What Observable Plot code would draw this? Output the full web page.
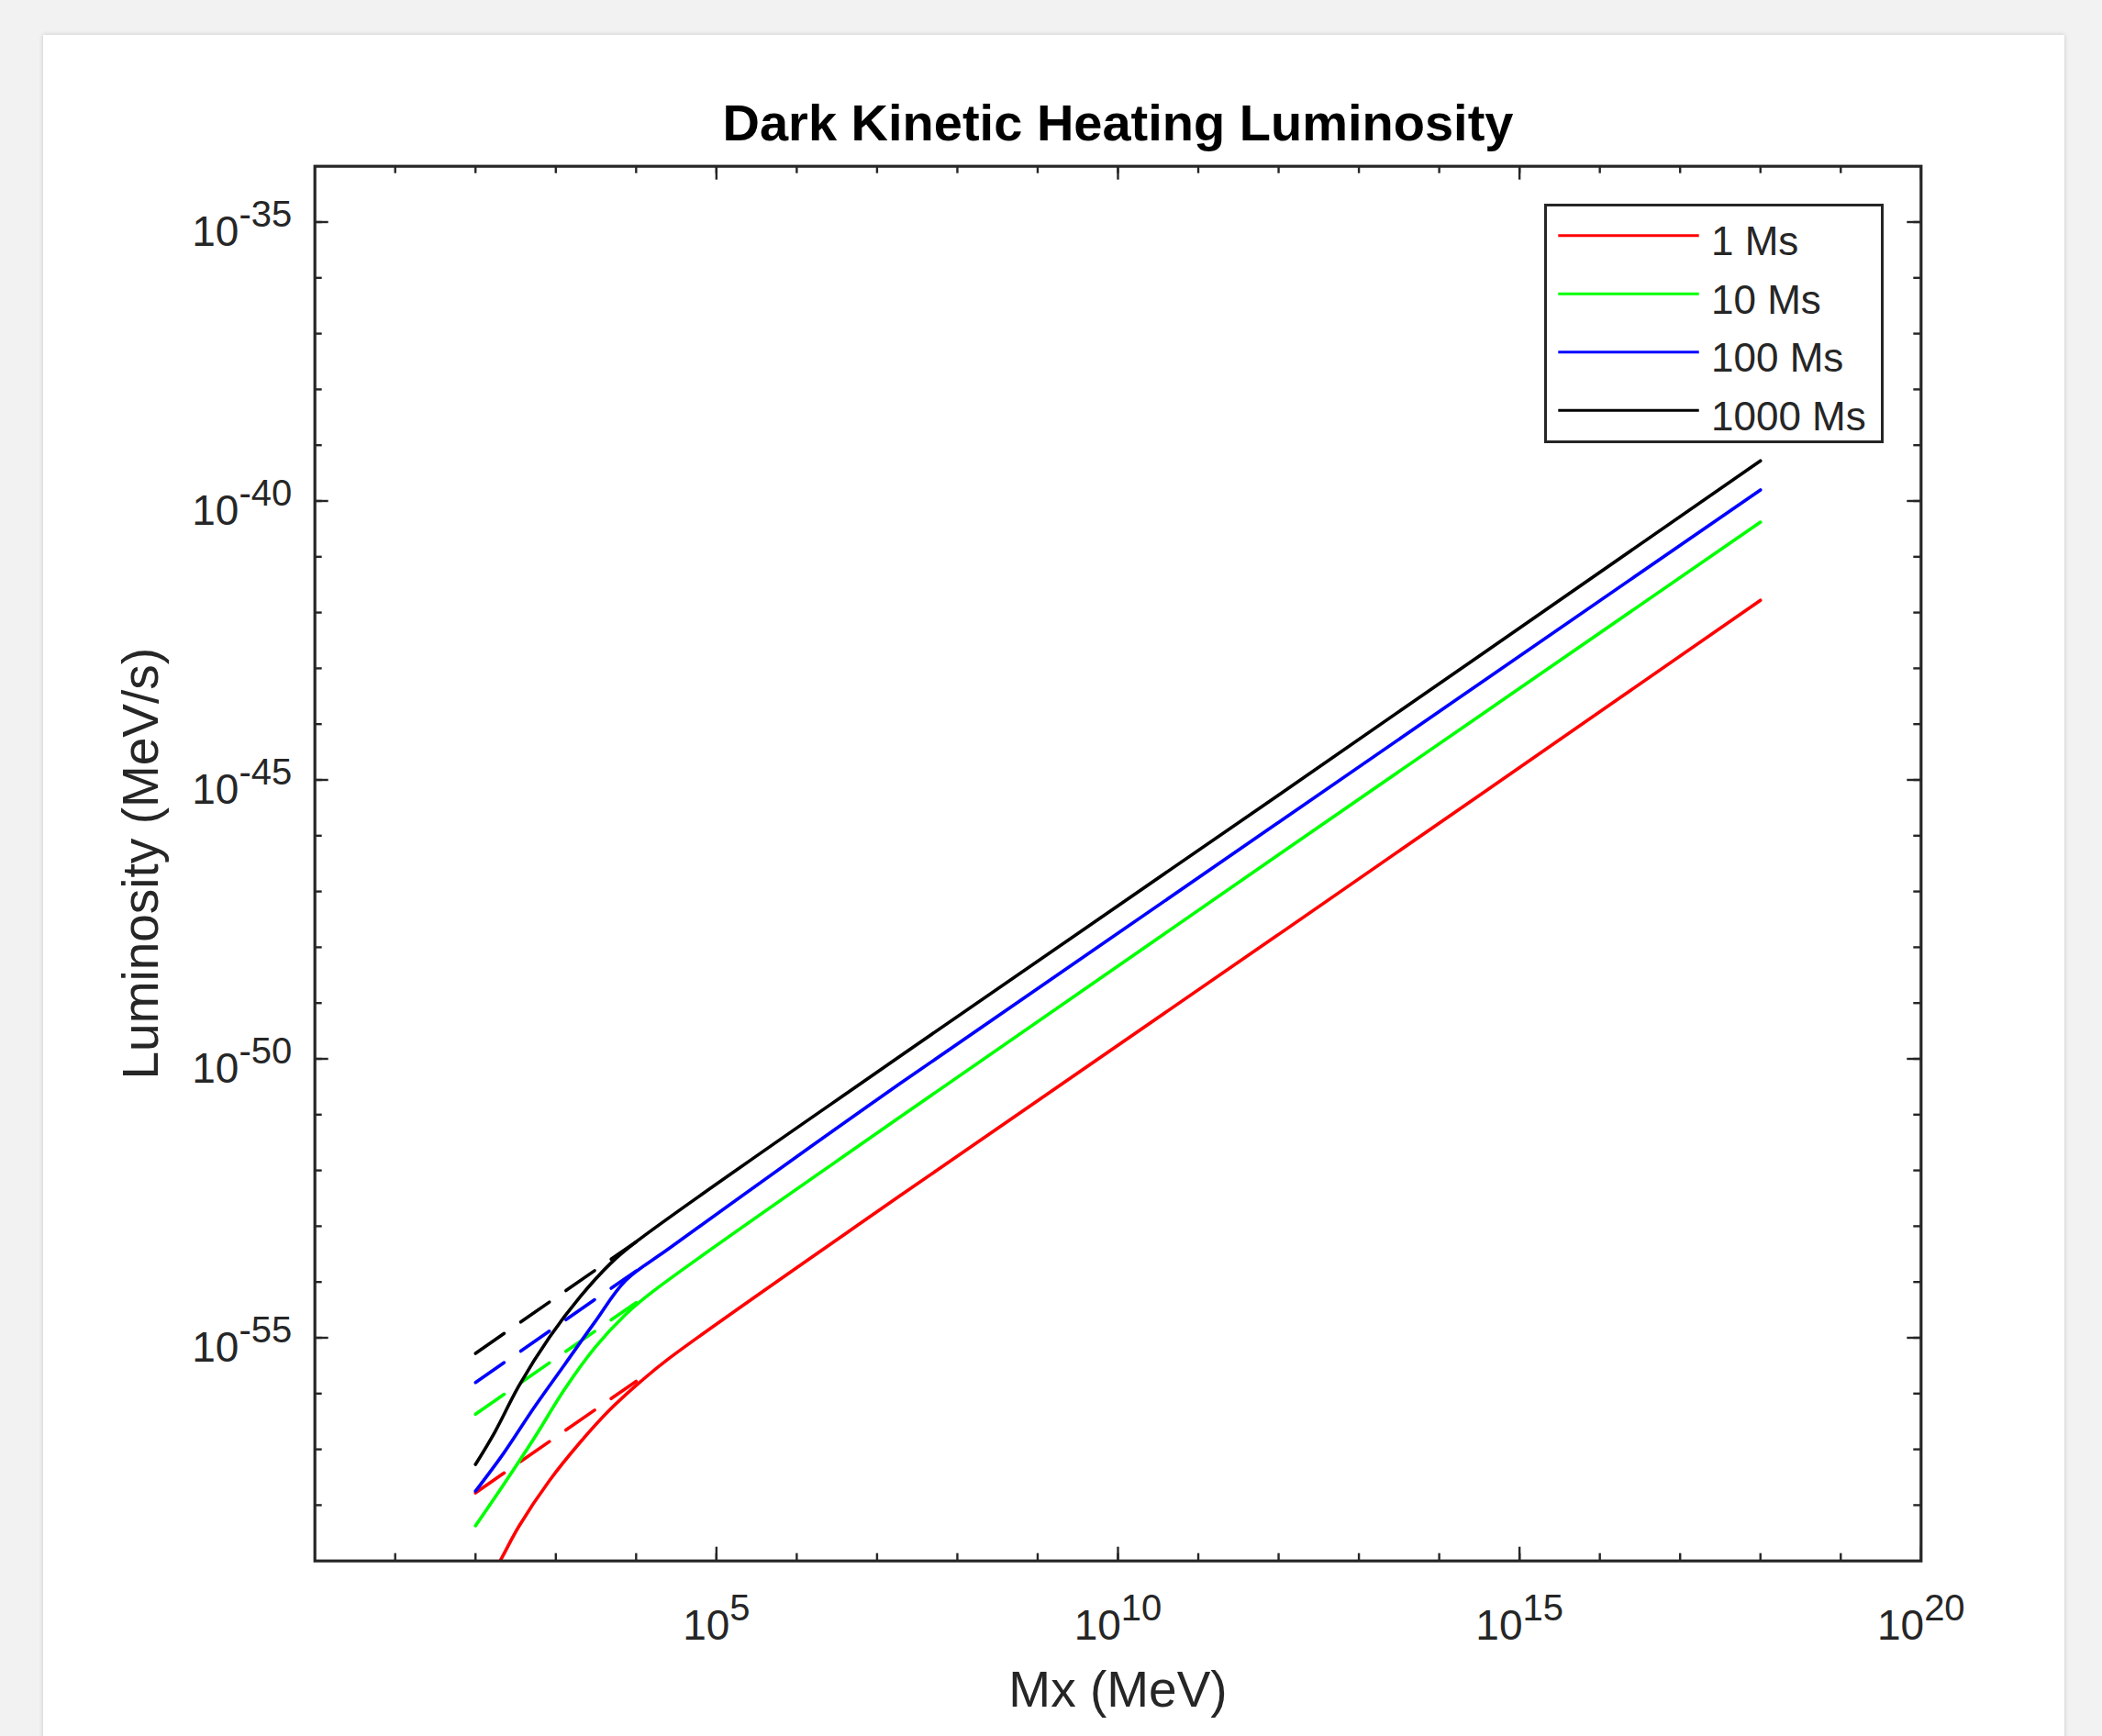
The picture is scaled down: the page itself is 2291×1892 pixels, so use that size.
<!DOCTYPE html>
<html>
<head>
<meta charset="utf-8">
<script src="https://cdn.jsdelivr.net/npm/d3@7"></script>
<script src="https://cdn.jsdelivr.net/npm/@observablehq/plot@0.6"></script>
<style>
  html, body { margin:0; padding:0; background:#f2f2f2; width:2291px; height:1892px; overflow:hidden;
    font-family:"Liberation Sans", Arial, Helvetica, sans-serif; }
  #panel { position:absolute; left:47px; top:38px; width:2203px; height:1900px; background:#ffffff;
    box-shadow:0 0 5px rgba(0,0,0,0.18); }
  #chart { position:absolute; left:0; top:0; }
  #legend { position:absolute; left:1683px; top:222px; width:370px; height:261px; box-sizing:border-box;
    border:3px solid #262626; background:#ffffff; }
  #legend svg { position:absolute; left:0; top:0; }
</style>
</head>
<body>
<div id="panel"></div>
<div id="chart"></div>
<div id="legend"></div>
<script>
// ---------- data ----------
const seriesNames  = ["1 Ms", "10 Ms", "100 Ms", "1000 Ms"];
const seriesColors = ["#ff0000", "#00ff00", "#0000ff", "#000000"];

// solid curves: Mx (MeV) and luminosity (MeV/s)
const mx_1Ms    = [1e2, 204, 347, 832, 1995, 4786, 11482, 25119, 1.905e7, 1e12, 1e18];
const lum_1Ms   = [1.66e-60, 1.02e-59, 4.17e-59, 2.75e-58, 1.32e-57, 5.25e-57, 1.66e-56, 4.17e-56, 3.47e-53, 1.70e-48, 1.66e-42];

const mx_10Ms   = [1e2, 224, 537, 1288, 3090, 7413, 15849, 1.905e7, 1e12, 1e18];
const lum_10Ms  = [4.27e-59, 2.34e-58, 1.58e-57, 1.20e-56, 6.76e-56, 2.63e-55, 6.61e-55, 8.91e-52, 4.57e-47, 4.17e-41];

const mx_100Ms  = [1e2, 224, 537, 1288, 3090, 7413, 25119, 1.905e7, 1e12, 1e18];
const lum_100Ms = [1.78e-58, 8.51e-58, 5.62e-57, 3.31e-56, 1.95e-55, 1.07e-54, 3.89e-54, 3.55e-51, 1.74e-46, 1.58e-40];

const mx_1000Ms  = [1e2, 174, 347, 832, 1995, 4786, 1e4, 1.905e7, 1e12, 1e18];
const lum_1000Ms = [5.37e-58, 2.04e-57, 1.38e-56, 1.02e-55, 5.37e-55, 2.14e-54, 5.25e-54, 1.10e-50, 5.37e-46, 5.25e-40];

// dashed asymptotes (low-mass range)
const mxDashed         = [1e2, 1e4];
const lumDashed_1Ms    = [1.66e-58, 1.66e-56];
const lumDashed_10Ms   = [4.27e-57, 4.27e-55];
const lumDashed_100Ms  = [1.58e-56, 1.58e-54];
const lumDashed_1000Ms = [5.25e-56, 5.25e-54];

// axes
const xDomain = [1, 1e20];
const yDomain = [1e-59, 1e-34];
const xMinorTicks = [1e1,1e2,1e3,1e4,1e5,1e6,1e7,1e8,1e9,1e10,1e11,1e12,1e13,1e14,1e15,1e16,1e17,1e18,1e19];
const xMajorTicks = [1e5, 1e10, 1e15, 1e20];
const xTickLabels = ["10^5", "10^10", "10^15", "10^20"];
const yMinorTicks = [1e-58,1e-57,1e-56,1e-55,1e-54,1e-53,1e-52,1e-51,1e-50,1e-49,1e-48,1e-47,1e-46,1e-45,1e-44,1e-43,1e-42,1e-41,1e-40,1e-39,1e-38,1e-37,1e-36,1e-35];
const yMajorTicks = [1e-55, 1e-50, 1e-45, 1e-40, 1e-35];
const yTickLabels = ["10^-55", "10^-50", "10^-45", "10^-40", "10^-35"];

const titleText = "Dark Kinetic Heating Luminosity";
const xLabel = "Mx (MeV)";
const yLabel = "Luminosity (MeV/s)";

// ---------- build tables ----------
const solidSets  = [[mx_1Ms, lum_1Ms], [mx_10Ms, lum_10Ms], [mx_100Ms, lum_100Ms], [mx_1000Ms, lum_1000Ms]];
const dashedSets = [lumDashed_1Ms, lumDashed_10Ms, lumDashed_100Ms, lumDashed_1000Ms];
const solidRows = [], dashedRows = [];
solidSets.forEach(([mx, lum], s) => mx.forEach((m, i) => solidRows.push({series: seriesNames[s], mx: m, lum: lum[i]})));
dashedSets.forEach((lum, s) => mxDashed.forEach((m, i) => dashedRows.push({series: seriesNames[s], mx: m, lum: lum[i]})));

// ---------- layout ----------
const W = 2291, H = 1892;
const mL = 342.7, mR = 197.7, mT = 180.7, mB = 191.3;
const FW = W - mL - mR, FH = H - mT - mB;
const axisColor = "#262626";
const lw = 3.6;
const fontFam = "'Liberation Sans', Arial, Helvetica, sans-serif";

const chart = Plot.plot({
  width: W, height: H,
  marginLeft: mL, marginRight: mR, marginTop: mT, marginBottom: mB,
  x: {type: "log", domain: xDomain, axis: null},
  y: {type: "log", domain: yDomain, axis: null},
  color: {domain: seriesNames, range: seriesColors},
  style: {background: "transparent", fontFamily: fontFam, overflow: "visible"},
  marks: [
    Plot.line(dashedRows, {x: "mx", y: "lum", z: "series", stroke: "series", strokeWidth: lw, strokeDasharray: "38,22", clip: true}),
    Plot.line(solidRows, {x: "mx", y: "lum", z: "series", stroke: "series", strokeWidth: lw, curve: "catmull-rom", clip: true}),
    // inward ticks, all four sides
    Plot.ruleX(xMinorTicks, {x: d => d, insetTop: FH - 8, stroke: axisColor, strokeWidth: 2.4}),
    Plot.ruleX(xMinorTicks, {x: d => d, insetBottom: FH - 8, stroke: axisColor, strokeWidth: 2.4}),
    Plot.ruleX(xMajorTicks, {x: d => d, insetTop: FH - 15, stroke: axisColor, strokeWidth: 2.4}),
    Plot.ruleX(xMajorTicks, {x: d => d, insetBottom: FH - 15, stroke: axisColor, strokeWidth: 2.4}),
    Plot.ruleY(yMinorTicks, {y: d => d, insetRight: FW - 8, stroke: axisColor, strokeWidth: 2.4}),
    Plot.ruleY(yMinorTicks, {y: d => d, insetLeft: FW - 8, stroke: axisColor, strokeWidth: 2.4}),
    Plot.ruleY(yMajorTicks, {y: d => d, insetRight: FW - 15, stroke: axisColor, strokeWidth: 2.4}),
    Plot.ruleY(yMajorTicks, {y: d => d, insetLeft: FW - 15, stroke: axisColor, strokeWidth: 2.4}),
    Plot.frame({stroke: axisColor, strokeWidth: 3.2}),
    // tick labels
    Plot.text(xMajorTicks, {x: d => d, text: (d, i) => xTickLabels[i], frameAnchor: "bottom", lineAnchor: "bottom",
      textAnchor: "middle", dy: 86, fontSize: 46, fill: axisColor}),
    Plot.text(yMajorTicks, {y: d => d, text: (d, i) => yTickLabels[i], frameAnchor: "left", lineAnchor: "bottom",
      textAnchor: "end", dx: -25, dy: 26, fontSize: 46, fill: axisColor}),
    // axis labels and title
    Plot.text([xLabel], {text: d => d, frameAnchor: "bottom", lineAnchor: "bottom", textAnchor: "middle", dy: 159, fontSize: 55, fill: axisColor}),
    Plot.text([yLabel], {text: d => d, frameAnchor: "left", lineAnchor: "bottom", textAnchor: "middle", rotate: -90, dx: -171, fontSize: 55, fill: axisColor}),
    Plot.text([titleText], {text: d => d, frameAnchor: "top", lineAnchor: "bottom", textAnchor: "middle", dy: -28.7, fontSize: 56, fontWeight: "bold", fill: "#000000"})
  ]
});

// superscripts for "10^n" tick labels
const NS = "http://www.w3.org/2000/svg";
chart.querySelectorAll("text").forEach(t => {
  const s = t.textContent;
  if (!s.includes("^")) return;
  const [base, exp] = s.split("^");
  while (t.firstChild) t.removeChild(t.firstChild);
  const a = document.createElementNS(NS, "tspan");
  a.textContent = base;
  t.appendChild(a);
  const b = document.createElementNS(NS, "tspan");
  b.textContent = exp;
  b.setAttribute("dy", "-21");
  b.setAttribute("font-size", "40");
  t.appendChild(b);
});
document.getElementById("chart").appendChild(chart);

// ---------- legend ----------
const leg = d3.select("#legend").append("svg").attr("width", 364).attr("height", 255);
seriesNames.forEach((name, i) => {
  const y = 31.7 + i * 63.5;
  leg.append("line").attr("x1", 12.3).attr("x2", 165.7).attr("y1", y).attr("y2", y)
    .attr("stroke", seriesColors[i]).attr("stroke-width", 3);
  leg.append("text").attr("x", 179).attr("y", y + 21.3).attr("font-size", 44)
    .attr("font-family", fontFam).attr("fill", axisColor).text(name);
});
</script>
</body>
</html>
